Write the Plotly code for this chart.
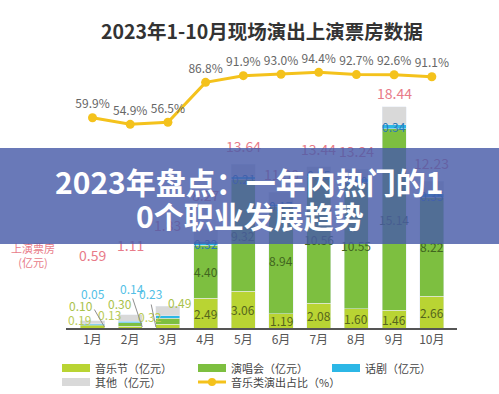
import plotly.graph_objects as go

months = ["1月", "2月", "3月", "4月", "5月", "6月", "7月", "8月", "9月", "10月"]
festival = [0.19, 0.13, 0.32, 2.49, 3.06, 1.19, 2.08, 1.60, 1.46, 2.66]
concert = [0.10, 0.30, 0.49, 4.40, 9.32, 8.94, 10.56, 10.55, 15.14, 8.22]
drama = [0.05, 0.14, 0.23, 0.32, 0.21, 0.17, 0.25, 0.30, 0.34, 0.35]
others = [0.25, 0.54, 0.79, 1.06, 1.05, 1.00, 0.55, 0.79, 1.50, 1.00]
totals = [0.59, 1.11, 1.83, 8.27, 13.64, 11.30, 13.44, 13.24, 18.44, 12.23]
share = [59.9, 54.9, 56.5, 86.8, 91.9, 93.0, 94.4, 92.7, 92.6, 91.1]
series_names = ["音乐节（亿元）", "演唱会（亿元）", "话剧（亿元）", "其他（亿元）", "音乐类演出占比（%）"]

C_FEST = "#b9d433"
C_CONC = "#7dbf40"
C_DRAMA = "#2cb7e6"
C_OTHER = "#d9d9d9"
C_LINE = "#f4c21c"
C_PINK = "#e87b89"
FONT = "Noto Sans CJK SC"

W, H = 499, 394
ML, MR, MT, MB = 66, 42, 50, 66
PW = W - ML - MR
PH = H - MT - MB
PX_PER_UNIT = 12.0
y_top = PH / PX_PER_UNIT
# secondary axis: 0% sits 131.4 px above the baseline, 1.316 px per %
y2_min = -(131.4 / 1.316)
y2_max = (PH - 131.4) / 1.316


def px(x):
    return (x - ML) / PW


def py(y):
    return (H - MB - y) / PH


def paper_text(x, y, text, size, color, xanchor="center", **kw):
    return dict(xref="paper", yref="paper", x=px(x), y=py(y), text=text,
                showarrow=False, xanchor=xanchor, yanchor="middle",
                font=dict(size=size, color=color, family=FONT), **kw)


fig = go.Figure()
fig.add_bar(x=months, y=festival, name=series_names[0], marker_color=C_FEST)
fig.add_bar(x=months, y=concert, name=series_names[1], marker_color=C_CONC)
fig.add_bar(x=months, y=drama, name=series_names[2], marker_color=C_DRAMA)
fig.add_bar(x=months, y=others, name=series_names[3], marker_color=C_OTHER)
fig.add_scatter(
    x=months, y=share, yaxis="y2", name=series_names[4],
    mode="lines+markers+text",
    line=dict(color=C_LINE, width=3),
    marker=dict(color=C_LINE, size=9),
    text=[f"{v:.1f}%" for v in share],
    textposition="top center",
    textfont=dict(size=12, color="#666666", family=FONT),
)

ann = []
# segment labels for months with tall bars
for i in range(3, 10):
    f, c, d = festival[i], concert[i], drama[i]
    ann.append(dict(x=months[i], y=f / 2, text=f"{f:.2f}", showarrow=False, yanchor="middle",
                    font=dict(size=12, color="#55651c", family=FONT)))
    ann.append(dict(x=months[i], y=f + c / 2, text=f"{c:.2f}", showarrow=False, yanchor="middle",
                    font=dict(size=12, color="#41651f", family=FONT)))
    ann.append(dict(x=months[i], y=f + c + d / 2, text=f"{d:.2f}", showarrow=False,
                    yanchor="middle", font=dict(size=12, color="#2b78b8", family=FONT)))

# small-month labels (pixel offsets from the bar base)
small_offsets = {
    "fest": [(-13, 9), (-21, 14), (-18, 12)],
    "conc": [(-12, 23), (-10, 25), (12, 26)],
    "drama": [(0, 35), (2, 40), (-17, 35)],
}
for i in range(3):
    for key, vals, col in (("fest", festival, "#b9cb55"),
                           ("conc", concert, "#a9c24a"),
                           ("drama", drama, "#52bfe6")):
        dx, dy = small_offsets[key][i]
        ann.append(dict(x=months[i], y=0, xshift=dx, yshift=dy, text=f"{vals[i]:.2f}",
                        showarrow=False, yanchor="middle",
                        font=dict(size=12, color=col, family=FONT)))

# leader lines
leaders = [(12, -11, -19), (12, -10, -30), (-12, -5, -24)]
for i, (dx, ax, ay) in enumerate(leaders):
    ann.append(dict(x=months[i], y=0, xshift=dx, yshift=1, text="", showarrow=True,
                    arrowhead=0, arrowwidth=1, arrowcolor="#8f8f8f", ax=ax, ay=ay,
                    standoff=0, startstandoff=0))

# totals
lifts = [54, 58, 69, 22, 6, 6, 6, 6, 2, 6]
for i, t in enumerate(totals):
    ann.append(dict(x=months[i], y=t, yanchor="bottom", yshift=lifts[i], text=f"{t:.2f}",
                    showarrow=False, font=dict(size=14, color=C_PINK, family=FONT)))

ann.append(paper_text(33, 255, "上演票房<br>(亿元)", 11, C_PINK, align="center"))

# title
ann.append(paper_text(261.5, 30, "<b>2023年1-10月现场演出上演票房数据</b>", 19.5, "#333333"))

# legend (drawn manually to match the wide swatches)
shapes = []
legend_items = [
    (62, 368, "rect", C_FEST, series_names[0]),
    (198, 368, "rect", C_CONC, series_names[1]),
    (332, 368, "rect", C_DRAMA, series_names[2]),
    (62, 382, "rect", C_OTHER, series_names[3]),
    (198, 382, "line", C_LINE, series_names[4]),
]
for lx, ly, kind, col, label in legend_items:
    if kind == "rect":
        shapes.append(dict(type="rect", xref="paper", yref="paper",
                           x0=px(lx), x1=px(lx + 28), y0=py(ly + 4), y1=py(ly - 4),
                           fillcolor=col, line=dict(width=0)))
    else:
        shapes.append(dict(type="line", xref="paper", yref="paper",
                           x0=px(lx), x1=px(lx + 28), y0=py(ly), y1=py(ly),
                           line=dict(color=col, width=3)))
        shapes.append(dict(type="circle", xref="paper", yref="paper",
                           x0=px(lx + 10), x1=px(lx + 18), y0=py(ly + 4), y1=py(ly - 4),
                           fillcolor=col, line=dict(width=0)))
    ann.append(paper_text(lx + 31, ly, label, 11, "#444444", xanchor="left"))

# banner overlay
ann.append(dict(xref="paper", yref="paper", x=px(W / 2), y=py(196),
                xanchor="center", yanchor="middle", width=W + 4, height=96, text=" ",
                showarrow=False, bgcolor="rgba(72,92,168,0.82)", borderpad=0, borderwidth=0))
ann.append(paper_text(W / 2, 181, "<b>2023年盘点：一年内热门的1</b>", 30, "white"))
ann.append(paper_text(W / 2, 215, "<b>0个职业发展趋势</b>", 30, "white"))

fig.update_layout(
    width=W, height=H,
    margin=dict(l=ML, r=MR, t=MT, b=MB, autoexpand=False),
    barmode="stack", bargap=0.36,
    plot_bgcolor="white", paper_bgcolor="white",
    font=dict(family=FONT, color="#555555", size=12),
    xaxis=dict(showline=True, linecolor="#555555", linewidth=2, ticks="",
               tickfont=dict(size=12, color="#555555"), showgrid=False),
    yaxis=dict(range=[0, y_top], visible=False, showgrid=False),
    yaxis2=dict(range=[y2_min, y2_max], overlaying="y", visible=False, showgrid=False),
    showlegend=False,
    annotations=ann,
    shapes=shapes,
)

fig.write_html(
    "out.html",
    config={"displayModeBar": False},
    post_script="document.body.style.margin='0';document.body.style.overflow='hidden';",
)
